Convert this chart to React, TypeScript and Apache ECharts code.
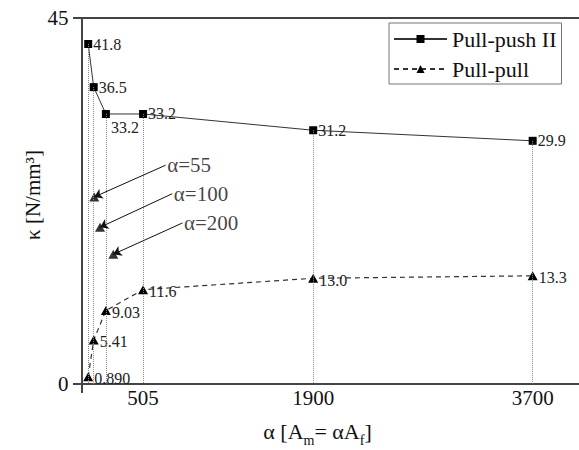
import React, { useEffect, useRef } from "react";
import * as echarts from "echarts";

// ---- data ----
const xValues = [55, 100, 200, 505, 1900, 3700];
const pullPushII = [41.8, 36.5, 33.2, 33.2, 31.2, 29.9];
const pullPull = [0.89, 5.41, 9.03, 11.6, 13.0, 13.3];
const xTickValues = [505, 1900, 3700];
const seriesNames = ["Pull-push II", "Pull-pull"];

// annotation markers (triangles pointed at by arrows) and their label anchors
const annoNames = ["α=55", "α=100", "α=200"];
const annoX = [105, 152, 261];
const annoY = [23.0, 19.27, 15.95];
const annoLabelX = [690, 745, 828];
const annoLabelY = [26.9, 23.4, 19.8];

const FONT = "Liberation Serif";
const INK = "#111";
const AXIS = "#444";

export default function App() {
  const ref = useRef<HTMLDivElement>(null);

  useEffect(() => {
    if (!ref.current) return;
    const chart = echarts.init(ref.current, undefined, { renderer: "svg" });

    const pushData = xValues.map((x, i) => {
      const d: any = { value: [x, pullPushII[i]] };
      if (i === 2) d.label = { offset: [0, 14] };
      return d;
    });
    const pullData = xValues.map((x, i) => [x, pullPull[i]]);
    const fmt3 = (p: any) => Number(p.value[1]).toPrecision(3);

    const option: any = {
      animation: false,
      textStyle: { fontFamily: FONT },
      grid: { left: 81.5, top: 18, width: 497.5, height: 366, outerBoundsMode: "none" },
      legend: {
        data: seriesNames,
        orient: "vertical",
        left: 389,
        top: 23,
        padding: [5, 5, 4, 4],
        itemGap: 8,
        itemWidth: 53,
        itemHeight: 10,
        borderColor: "#777",
        borderWidth: 1,
        textStyle: { fontFamily: FONT, fontSize: 22, color: INK },
      },
      xAxis: [
        {
          type: "value",
          min: 0,
          max: 4080,
          splitLine: { show: false },
          axisLine: { onZero: false, lineStyle: { color: AXIS, width: 2 } },
          axisTick: {
            show: true,
            customValues: [0],
            length: 9,
            lineStyle: { color: AXIS, width: 2 },
          },
          axisLabel: {
            customValues: xTickValues,
            formatter: (v: number) => String(v),
            fontFamily: FONT,
            fontSize: 21,
            color: INK,
            margin: 3,
          },
        },
        {
          type: "value",
          position: "top",
          min: 0,
          max: 4080,
          splitLine: { show: false },
          axisLine: { show: true, onZero: false, lineStyle: { color: AXIS, width: 2 } },
          axisTick: { show: false },
          axisLabel: { show: false },
        },
      ],
      yAxis: {
        type: "value",
        min: 0,
        max: 45,
        interval: 45,
        splitLine: { show: false },
        axisLine: { show: true, onZero: false, lineStyle: { color: AXIS, width: 2 } },
        axisTick: { show: true, length: 8.5, lineStyle: { color: AXIS, width: 2 } },
        axisLabel: { fontFamily: FONT, fontSize: 21, color: INK, margin: 13 },
      },
      series: [
        {
          name: seriesNames[0],
          type: "line",
          data: pushData,
          symbol: "rect",
          symbolSize: 8,
          itemStyle: { color: "#000" },
          lineStyle: { color: "#333", width: 1 },
          label: {
            show: true,
            position: "right",
            distance: 1,
            fontFamily: FONT,
            fontSize: 16,
            color: "#222",
            formatter: fmt3,
          },
          markLine: {
            silent: true,
            symbol: ["none", "none"],
            label: { show: false },
            lineStyle: { type: "dotted", color: "#888", width: 1 },
            data: xValues.map((x, i) => [
              { coord: [x, pullPushII[i]] },
              { coord: [x, 0] },
            ]),
          },
          z: 3,
        },
        {
          name: seriesNames[1],
          type: "line",
          data: pullData,
          symbol: "triangle",
          symbolSize: [10, 9],
          itemStyle: { color: "#000" },
          lineStyle: { color: "#333", width: 1.2, type: [5, 4] },
          label: {
            show: true,
            position: "right",
            distance: 1,
            offset: [0, 2],
            fontFamily: FONT,
            fontSize: 16,
            color: "#222",
            formatter: fmt3,
          },
          z: 3,
        },
        {
          name: "annotations",
          type: "scatter",
          data: annoX.map((x, i) => [x, annoY[i]]),
          symbol: "triangle",
          symbolSize: [10, 9],
          itemStyle: { color: "#000" },
          markLine: {
            silent: true,
            symbol: ["none", "arrow"],
            symbolSize: 8,
            label: { show: false },
            itemStyle: { color: "#111" },
            lineStyle: { type: "solid", color: "#111", width: 1 },
            data: annoX.map((x, i) => [
              { coord: [annoLabelX[i], annoLabelY[i]] },
              { coord: [x, annoY[i]] },
            ]),
          },
          z: 4,
        },
        {
          name: "annotationLabels",
          type: "scatter",
          data: annoLabelX.map((x, i) => ({ value: [x, annoLabelY[i]], name: annoNames[i] })),
          symbol: "circle",
          symbolSize: 1,
          itemStyle: { color: "transparent" },
          label: {
            show: true,
            position: "right",
            distance: 1,
            formatter: (p: any) => p.name,
            fontFamily: FONT,
            fontSize: 21,
            color: INK,
          },
          z: 4,
        },
      ],
      graphic: [
        {
          type: "text",
          x: 317.5,
          y: 431,
          style: {
            text: "{a|α [A}{s|m}{a|= αA}{s|f}{a|]}",
            align: "center",
            verticalAlign: "middle",
            fontFamily: FONT,
            fontSize: 22,
            fill: INK,
            rich: {
              a: { fontFamily: FONT, fontSize: 22, fill: INK, verticalAlign: "middle" },
              s: {
                fontFamily: FONT,
                fontSize: 14,
                fill: INK,
                verticalAlign: "middle",
                padding: [19, 0, 0, 0],
              },
            },
          },
        },
        {
          type: "text",
          x: 33,
          y: 195,
          rotation: Math.PI / 2,
          style: {
            text: "κ [N/mm³]",
            align: "center",
            verticalAlign: "middle",
            fontFamily: FONT,
            fontSize: 21,
            fill: INK,
          },
        },
      ],
    };

    chart.setOption(option);
    return () => chart.dispose();
  }, []);

  return (
    <div
      ref={ref}
      style={{ position: "fixed", left: 0, top: 0, width: 579, height: 450, background: "#fff" }}
    />
  );
}
